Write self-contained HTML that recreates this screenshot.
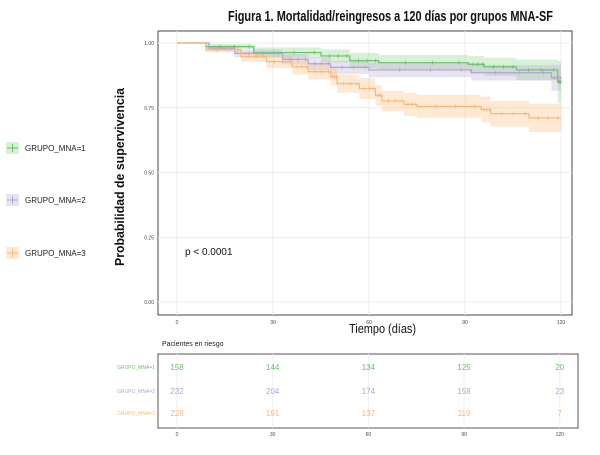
<!DOCTYPE html>
<html><head><meta charset="utf-8"><style>
body{margin:0;background:#fff;width:600px;height:450px;overflow:hidden;font-family:"Liberation Sans",sans-serif}
</style></head><body>
<svg id="c" width="600" height="450" xmlns="http://www.w3.org/2000/svg">
<text x="228" y="21" textLength="325" lengthAdjust="spacingAndGlyphs" font-size="15" font-weight="bold" fill="#111">Figura 1. Mortalidad/reingresos a 120 días por grupos MNA-SF</text>
<rect x="158" y="31" width="414" height="284" fill="#fff" stroke="#444" stroke-width="1"/>
<g id="grid"></g><g id="bands"></g><g id="lines"></g>
<text transform="translate(124,177) rotate(-90)" text-anchor="middle" textLength="178" lengthAdjust="spacingAndGlyphs" font-size="13" font-weight="bold" fill="#111">Probabilidad de supervivencia</text>
<text x="349" y="333" textLength="67" lengthAdjust="spacingAndGlyphs" font-size="13" fill="#111">Tiempo (días)</text>
<text x="185" y="255" font-size="10" fill="#111">p &lt; 0.0001</text>
<text x="162" y="346" font-size="7" fill="#222">Pacientes en riesgo</text>
<rect x="158" y="354" width="420" height="74" fill="#fff" stroke="#555" stroke-width="1"/>
<g id="risk"></g><g id="legend"></g>
</svg>
<script>
const groups=["GRUPO_MNA=1","GRUPO_MNA=2","GRUPO_MNA=3"];
const riskTimes=[0,30,60,90,120];
const yTicks=[0,0.25,0.5,0.75,1.0];
const yTickLabels=["0.00","0.25","0.50","0.75","1.00"];
const g1Times=[0,9,24,45,54,63,91,96,106,119,120];
const g1Surv=[1,0.986,0.963,0.95,0.932,0.924,0.918,0.908,0.896,0.85,0.85];
const g1Half=[0,0.01,0.02,0.025,0.03,0.03,0.032,0.035,0.04,0.08,0.08];
const g2Times=[0,10,18,33,41,48,60,92,117,120];
const g2Surv=[1,0.98,0.96,0.937,0.92,0.906,0.896,0.885,0.866,0.866];
const g2Half=[0,0.01,0.015,0.02,0.025,0.025,0.028,0.03,0.05,0.05];
const g3Times=[0,9,20,28,36,41,48,50,57,62,64,71,75,95,98,110,120];
const g3Surv=[1,0.974,0.947,0.928,0.908,0.889,0.87,0.843,0.824,0.798,0.776,0.763,0.755,0.743,0.727,0.711,0.711];
const g3Half=[0,0.01,0.02,0.025,0.03,0.03,0.035,0.035,0.04,0.04,0.04,0.045,0.045,0.05,0.05,0.055,0.055];
const risk1=[158,144,134,125,20];
const risk2=[232,204,174,158,23];
const risk3=[228,191,137,119,7];
const colors=["#6bbf6b","#b0a4d0","#f9b878"];
const fills=["rgba(127,201,127,0.3)","rgba(190,174,212,0.35)","rgba(253,192,134,0.35)"];
const NS="http://www.w3.org/2000/svg";
const x=t=>177+t*3.2, y=s=>302-s*259;
const xr=t=>177+t*3.19;
function mk(tag,a,p){const e=document.createElementNS(NS,tag);for(const k in a)e.setAttribute(k,a[k]);p.appendChild(e);return e;}
const grid=document.getElementById('grid');
riskTimes.forEach((t,i)=>{
 let l=mk('line',{x1:x(t),x2:x(t),y1:31,y2:315,stroke:'#ececec'},grid);
 
 
 let tx=mk('text',{x:x(t),y:324,'font-size':5,'text-anchor':'middle',fill:'#444'},grid);tx.textContent=t;
 
 
});
yTicks.forEach((v,i)=>{
 let l=mk('line',{x1:158,x2:572,y1:y(v),y2:y(v),stroke:'#ececec'},grid);
 
 
 let tx=mk('text',{x:154,y:y(v)+2,'font-size':5,'text-anchor':'end',fill:'#444'},grid);tx.textContent=yTickLabels[i];
 
 
});
const series=[[g1Times,g1Surv,g1Half],[g2Times,g2Surv,g2Half],[g3Times,g3Surv,g3Half]];
series.forEach(([T,S,H],k)=>{
 let up='',ln='';
 for(let i=0;i<T.length;i++){
  const xn=x(T[i]);
  if(i==0){ln+=`M${xn},${y(S[i])}`;up+=`M${xn},${y(Math.min(1,S[i]+H[i]))}`;}
  else{ln+=`H${xn}V${y(S[i])}`;up+=`H${xn}V${y(Math.min(1,S[i]+H[i]))}`;}
 }
 let pts=[];
 for(let i=T.length-1;i>=0;i--){pts.push(`${x(T[i])},${y(S[i]-H[i])}`);if(i>0)pts.push(`${x(T[i])},${y(S[i-1]-H[i-1])}`);}
 let b=mk('path',{d:up+'L'+pts.join('L')+'Z',fill:fills[k]},document.getElementById('bands'));
 
 
 let p=mk('path',{d:ln,fill:'none',stroke:colors[k],'stroke-width':1.2},document.getElementById('lines'));
 
 
 for(let i=1;i<T.length-1;i++){
  const cy=y(S[i]);
  for(let f=0.3;f<0.9;f+=0.3){
   const cx=x(T[i])+(x(T[i+1])-x(T[i]))*f;
   let c=mk('path',{d:`M${cx-2},${cy}H${cx+2}M${cx},${cy-2}V${cy+2}`,stroke:colors[k],'stroke-width':0.8},document.getElementById('lines'));
   
   
  }
 }
 const lg=document.getElementById('legend');const ly=[148,200,253][k];
 let r=mk('rect',{x:6,y:ly-6,width:13,height:12,fill:fills[k]},lg);
 
 
 mk('path',{d:`M7,${ly}H18M12.5,${ly-4}V${ly+4}`,stroke:colors[k],'stroke-width':1},lg);
 let lt=mk('text',{x:25,y:ly+3,'font-size':8,fill:'#222'},lg);lt.textContent=groups[k];
 
 
});
const rk=document.getElementById('risk');const rows=[risk1,risk2,risk3];const ry=[367,391,413];
riskTimes.forEach(t=>{let l=mk('line',{x1:xr(t),x2:xr(t),y1:354,y2:428,stroke:'#eee'},rk);
 let tx=mk('text',{x:xr(t),y:436,'font-size':5,'text-anchor':'middle',fill:'#444'},rk);tx.textContent=t;});
rows.forEach((r,k)=>{
 let lb=mk('text',{x:155,y:ry[k]+2,'font-size':5,'text-anchor':'end',fill:colors[k]},rk);lb.textContent=groups[k];
 
 
 r.forEach((v,i)=>{let tx=mk('text',{x:xr(riskTimes[i]),y:ry[k]+3,'font-size':8,'text-anchor':'middle',fill:colors[k]},rk);tx.textContent=v;
 
 });
});
</script>
</body></html>
